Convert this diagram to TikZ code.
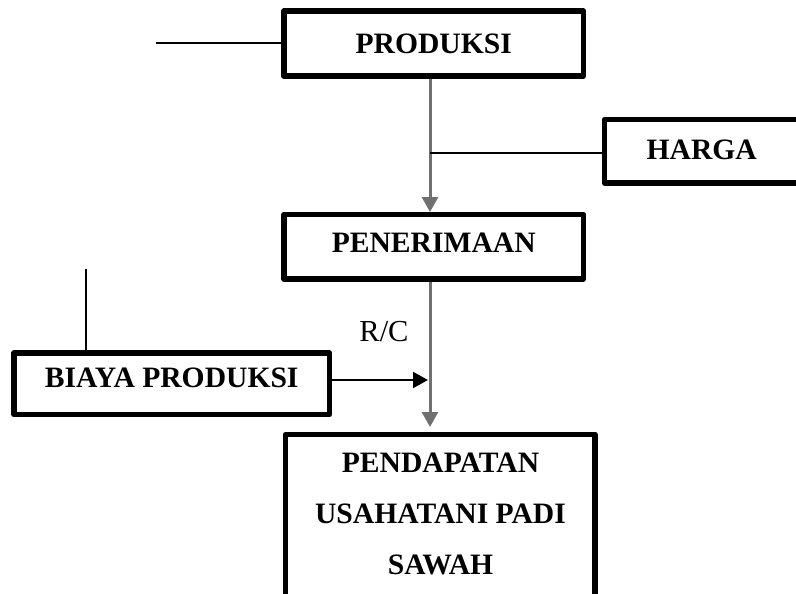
\documentclass[tikz,border=0pt]{standalone}
\usepackage{fontspec}
\setmainfont{Liberation Serif}
\usetikzlibrary{arrows.meta}
\definecolor{flowgray}{RGB}{112,112,112}
\begin{document}
\begin{tikzpicture}[x=1pt,y=-1pt,
  box/.style={draw, line width=5.5pt, line join=round, inner sep=0pt, outer sep=0pt,
    font=\fontsize{29.6}{51}\selectfont\bfseries},
  boxtext/.style={inner sep=0pt, align=center, font=\fontsize{29.6}{51}\selectfont\bfseries},
  thinline/.style={line width=2pt},
  flow/.style={draw=flowgray, color=flowgray, line width=3pt, -{Triangle[length=15pt,width=16pt]}},
  push/.style={thinline, -{Triangle[length=15pt,width=16pt]}}]
\useasboundingbox (0,0) rectangle (796,594);
\clip (0,0) rectangle (796,594);
\node[box, minimum width=299.5pt, minimum height=65pt] (prod) at (433.75,43.5) {PRODUKSI};
\node[box, minimum width=194.5pt, minimum height=63.5pt, text depth=2.5pt] (harga) at (701.75,151.25) {HARGA};
\node[box, minimum width=299.5pt, minimum height=64.5pt, text depth=7.5pt] (pen) at (433.75,246.75) {PENERIMAAN};
\node[box, minimum width=315.5pt, minimum height=61.5pt, text depth=11.5pt] (biaya) at (171.75,383.75) {BIAYA PRODUKSI};
\node[box, anchor=north, minimum width=309.5pt, minimum height=200pt] (pend) at (440.25,434.5) {};
\node[boxtext, anchor=north] (pendtext) at (440.5,453) {PENDAPATAN\\USAHATANI PADI\\SAWAH};
\node[inner sep=0pt, font=\fontsize{30.5}{35}\selectfont] (rc) at (384,332) {R/C};
\coordinate (ax) at (430,0);
\coordinate (lt) at (156,43);
\coordinate (hj) at (430,153);
\coordinate (bv) at (86,269);
\coordinate (ba) at (430,380);
\draw[thinline, shorten >=2.75pt] (lt) -- (lt -| prod.west);
\draw[flow, shorten <=2.75pt, shorten >=2.5pt] (ax |- prod.south) -- (ax |- pen.north);
\draw[flow, shorten <=2.75pt, shorten >=7.5pt] (ax |- pen.south) -- (ax |- pend.north);
\draw[thinline, shorten >=2.75pt] (hj) -- (hj -| harga.west);
\draw[thinline, shorten >=2.75pt] (bv) -- (bv |- biaya.north);
\draw[push, shorten <=2.75pt, shorten >=2pt] (ba -| biaya.east) -- (ba);
\end{tikzpicture}
\end{document}
